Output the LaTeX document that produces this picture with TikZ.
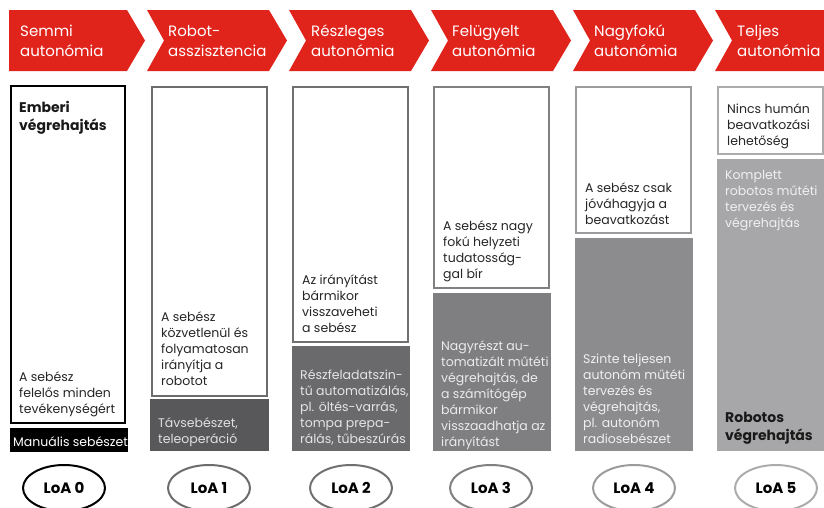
\documentclass[tikz,border=0pt]{standalone}
\usepackage{fontspec}
\setmainfont{Poppins}[Numbers=OldStyle]
\usetikzlibrary{shapes.geometric}

\definecolor{loared}{RGB}{224,36,28}
\definecolor{edgeA}{RGB}{108,108,108}
\definecolor{edgeB}{RGB}{112,112,112}
\definecolor{edgeC}{RGB}{128,128,130}
\definecolor{edgeD}{RGB}{155,155,157}
\definecolor{edgeE}{RGB}{172,172,174}
\definecolor{fillA}{RGB}{88,88,90}
\definecolor{fillB}{RGB}{106,106,108}
\definecolor{fillC}{RGB}{127,127,130}
\definecolor{fillD}{RGB}{140,140,143}
\definecolor{fillE}{RGB}{167,167,170}

\begin{document}
\begin{tikzpicture}[x=1pt,y=-1pt,
    chev/.style={fill=loared},
    chevtxt/.style={anchor=base west, align=left, inner sep=0pt, text=white,
      font=\fontsize{15}{20}\selectfont},
    frm/.style={draw=#1, line width=2pt, fill=white},
    ftxt/.style={anchor=base west, align=left, inner sep=0pt, text=black!85,
      font=\fontsize{12.5}{16}\selectfont},
    btxt/.style={ftxt, text=#1},
    head/.style={anchor=base west, align=left, inner sep=0pt, text=black!90,
      font=\bfseries\fontsize{14}{18}\selectfont},
    loa/.style={draw=#1, ellipse, line width=2pt, minimum width=82pt,
      minimum height=46pt, inner sep=0pt, font=\bfseries\fontsize{15}{18}\selectfont}]
  \useasboundingbox (0,0) rectangle (824,507);

  % chevrons (text nodes sit on the baseline of their last line)
  \fill[chev] (9,10) -- (127,10) -- (145,40.5) -- (127,71) -- (9,71) -- cycle;
  \foreach \i in {1,...,4}
    \fill[chev] ({5+142*\i},10) -- ({127+142*\i},10) -- ({145+142*\i},40.5)
      -- ({127+142*\i},71) -- ({5+142*\i},71) -- ({22+142*\i},40.5) -- cycle;
  \fill[chev] (715,10) -- (824,10) -- (824,71) -- (715,71) -- (732,40.5) -- cycle;
  \node[chevtxt] (ch0) at (20,56) {Semmi\\autonómia};
  \node[chevtxt] (ch1) at (168,56) {Robot-\\asszisztencia};
  \node[chevtxt] (ch2) at (311,56) {Részleges\\autonómia};
  \node[chevtxt] (ch3) at (452,56) {Felügyelt\\autonómia};
  \node[chevtxt] (ch4) at (594,56) {Nagyfokú\\autonómia};
  \node[chevtxt] (ch5) at (737,56) {Teljes\\autonómia};

  % LoA 0
  \draw[frm=black, line width=2.5pt] (11,86) rectangle (125,423);
  \fill[black] (10,428) rectangle (128,452);
  \node[head] (hum) at (19,130) {Emberi\\végrehajtás};
  \node[ftxt] (t0) at (19,413) {A sebész\\felelős minden\\tevékenységért};
  \node[btxt=white] (b0) at (13,446) {Manuális sebészet};
  \node[loa=black] (loa0) at (64,488) {LoA 0};

  % LoA 1
  \draw[frm=edgeA] (152,87) rectangle (267,396);
  \fill[fillA] (150,399) rectangle (269,451);
  \node[ftxt] (t1) at (161,385) {A sebész\\közvetlenül és\\folyamatosan\\irányítja a\\robotot};
  \node[btxt=white!88!black] (b1) at (158,443) {Távsebészet,\\teleoperáció};
  \node[loa=edgeA] (loa1) at (209,488) {LoA 1};

  % LoA 2
  \draw[frm=edgeB] (293,87) rectangle (408,342);
  \fill[fillB] (292,346) rectangle (410,451);
  \node[ftxt] (t2) at (302,332) {Az irányítást\\bármikor\\visszaveheti\\a sebész};
  \node[btxt=white!90!black] (b2) at (300,443) {Részfeladatszin-\\tű automatizálás,\\pl. öltés-varrás,\\tompa prepa-\\rálás, tűbeszúrás};
  \node[loa=edgeB] (loa2) at (351,488) {LoA 2};

  % LoA 3
  \draw[frm=edgeC] (434,87) rectangle (549,288);
  \fill[fillC] (433,293) rectangle (551,451);
  \node[ftxt] (t3) at (443,278) {A sebész nagy\\fokú helyzeti\\tudatosság-\\gal bír};
  \node[btxt=white!92!black] (b3) at (441,446) {Nagyrészt au-\\tomatizált műtéti\\végrehajtás, de\\a számítógép\\bármikor\\visszaadhatja az\\irányítást};
  \node[loa=edgeC] (loa3) at (491,488) {LoA 3};

  % LoA 4
  \draw[frm=edgeD] (576,87) rectangle (691,233);
  \fill[fillD] (575,238) rectangle (693,451);
  \node[ftxt] (t4) at (585,224) {A sebész csak\\jóváhagyja a\\beavatkozást};
  \node[btxt=white!94!black] (b4) at (583,443) {Szinte teljesen\\autonóm műtéti\\tervezés és\\végrehajtás,\\pl. autonóm\\radiosebészet};
  \node[loa=edgeD] (loa4) at (634,488) {LoA 4};

  % LoA 5
  \draw[frm=edgeE] (718,87) rectangle (823,154);
  \fill[fillE] (717,159) rectangle (824,451);
  \node[ftxt] (t5) at (727,145) {Nincs humán\\beavatkozási\\lehetőség};
  \node[btxt=white!94!black] (b5) at (725,227) {Komplett\\robotos műtéti\\tervezés és\\végrehajtás};
  \node[head] (rob) at (725,440) {Robotos\\végrehajtás};
  \node[loa=edgeE] (loa5) at (776,488) {LoA 5};
\end{tikzpicture}
\end{document}
